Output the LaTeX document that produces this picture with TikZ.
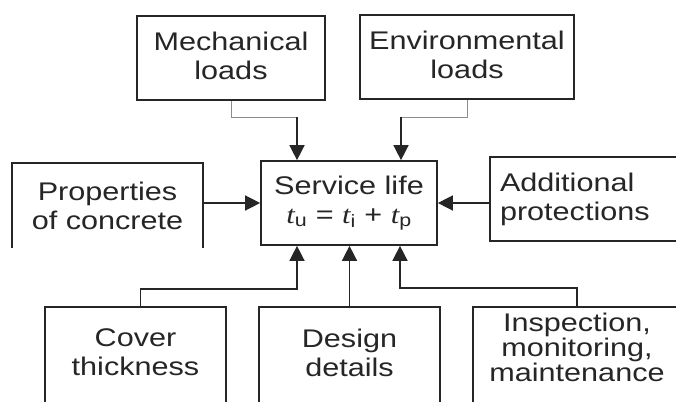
\documentclass[tikz,border=0pt]{standalone}
\usepackage{fontspec}
\setmainfont{Liberation Sans}[FakeStretch=1.2]
\newfontfamily\timesit{Liberation Serif}[FakeStretch=1.2]
\usetikzlibrary{arrows.meta}
\def\tvar#1{{\timesit\itshape t}\textsubscript{#1}}

\tikzset{
  frame/.style={draw=black!85, line width=1.7pt},
  box/.style={frame, align=center, inner sep=0pt},
  openbox/.style={align=center, inner sep=0pt},
  feed/.style={line width=1.5pt, draw=black!85, -{Triangle[length=15pt,width=15pt]}},
  stub/.style={line width=1pt, draw=black!45},
}

\begin{document}
\begin{tikzpicture}[x=1pt, y=-1pt, font=\fontsize{25.5}{29}\selectfont, text=black!85]
  %%%%% START %%%%%
  \useasboundingbox (0,0) rectangle (676,401);
  \fill[white] (0,0) rectangle (676,401);
  \clip (0,0) rectangle (676,401);

  % centre box
  \node[box, minimum width=176, minimum height=84] (serv) at (349,203)
    {Service life\\ \tvar{u} = \tvar{i} + \tvar{p}};

  % loads on top
  \node[box, minimum width=188, minimum height=84, text depth=4pt] (mech) at (231,58) {Mechanical\\loads};
  \node[box, minimum width=214, minimum height=84, text depth=4pt] (env) at (467,57) {Environmental\\loads};

  % left and right
  \node[openbox, minimum width=191, minimum height=85] (props) at (107.5,205.5) {Properties\\of concrete};
  \draw[frame] (props.south west) |- (props.north east) -- (props.south east);
  \node[box, minimum height=84, text width=170, inner xsep=10, align=left] (addl) at (585,199)
    {Additional\\protections};

  % bottom row, running off the lower edge
  \node[openbox, minimum width=181, minimum height=91] (cover) at (135.5,352.5) {Cover\\thickness};
  \node[openbox, minimum width=181, minimum height=91] (design) at (349.5,352.5) {Design\\details};
  \node[openbox, minimum width=208, minimum height=81, font=\fontsize{25.5}{25}\selectfont] (insp) at (577,347.5)
    {Inspection,\\monitoring,\\maintenance};
  \foreach \n in {cover,design,insp}
    \draw[frame] ([yshift=-40pt]\n.south west) |- (\n.north east) -- ([yshift=-40pt]\n.south east);

  % arrows into the centre box
  \coordinate (mj) at (297,117);
  \coordinate (ej) at (401,117);
  \draw[stub] (mech.south) |- (mj);
  \draw[feed] (mj) -- (mj |- serv.north);
  \draw[stub] (env.south) |- (ej);
  \draw[feed] (ej) -- (ej |- serv.north);

  \draw[feed] (props.east |- serv.west) -- (serv.west);
  \draw[feed] (serv.east -| addl.west) -- (serv.east);

  \coordinate (cj) at (297,289);
  \coordinate (ij) at (400,288);
  \draw[feed] ([xshift=5pt]cover.north) |- (cj) -- (cj |- serv.south);
  \draw[feed] (design.north) -- (design.north |- serv.south);
  \draw[feed] (insp.north) |- (ij) -- (ij |- serv.south);
  %%%%% END %%%%%
\end{tikzpicture}
\end{document}
